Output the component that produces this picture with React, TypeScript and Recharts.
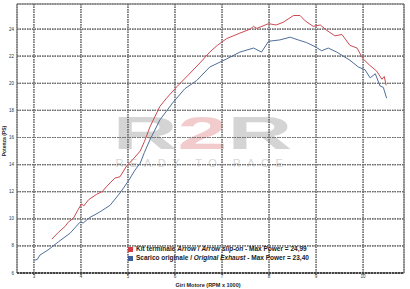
import { CartesianGrid, Line, LineChart, ReferenceArea, XAxis, YAxis } from "recharts";

// Arrow slip-on run (RPM x 1000 / PS)
const rpmArrow = [3.38, 3.52, 3.66, 3.73, 3.84, 3.94, 4.01, 4.06, 4.16, 4.33, 4.45, 4.55, 4.72, 4.83, 4.97, 5.11, 5.26, 5.35, 5.47, 5.68, 5.82, 6.04, 6.28, 6.53, 6.74, 6.9, 7.1, 7.38, 7.6, 7.67, 7.74, 7.99, 8.15, 8.3, 8.52, 8.66, 8.77, 8.94, 9.09, 9.23, 9.4, 9.55, 9.72, 9.87, 10.0, 10.15, 10.29, 10.4, 10.45, 10.49];
const powerArrow = [8.5, 9.0, 9.43, 9.75, 10.05, 10.67, 11.1, 10.95, 11.4, 11.8, 12.0, 12.4, 13.0, 13.1, 13.9, 14.4, 15.0, 15.7, 16.8, 18.3, 18.9, 19.75, 20.6, 21.5, 22.3, 22.8, 23.3, 23.7, 24.0, 24.2, 24.05, 24.4, 24.3, 24.5, 25.0, 25.0, 24.6, 24.2, 24.3, 23.9, 23.5, 23.6, 22.8, 22.6, 21.8, 21.3, 20.9, 20.3, 20.5, 19.85];

// original exhaust run
const rpmStock = [3.01, 3.07, 3.13, 3.3, 3.52, 3.77, 3.98, 4.05, 4.19, 4.4, 4.62, 4.83, 5.01, 5.15, 5.26, 5.35, 5.47, 5.68, 5.96, 6.21, 6.46, 6.74, 7.1, 7.38, 7.67, 7.84, 7.99, 8.23, 8.45, 8.62, 8.8, 8.98, 9.12, 9.26, 9.44, 9.58, 9.72, 9.9, 10.04, 10.15, 10.26, 10.36, 10.43, 10.5];
const powerStock = [6.94, 7.0, 7.33, 7.7, 8.3, 8.94, 9.75, 9.7, 10.1, 10.5, 11.0, 11.9, 12.8, 13.6, 14.1, 14.9, 15.85, 17.3, 18.6, 19.6, 20.2, 21.2, 21.8, 22.3, 22.6, 22.3, 23.1, 23.2, 23.4, 23.2, 23.0, 22.7, 22.4, 22.6, 22.3, 22.0, 21.7, 21.2, 21.0, 20.4, 20.7, 19.8, 19.7, 18.9];

const xTicks = [3, 4, 5, 6, 7, 8, 9, 10];
const yTicks = [6, 8, 10, 12, 14, 16, 18, 20, 22, 24];

const X_MIN = 2.64;
const X_MAX = 10.87;
const Y_MIN = 6;
const Y_MAX = 25.85;

const arrowData = rpmArrow.map((rpm, i) => ({ rpm, power: powerArrow[i] }));
const stockData = rpmStock.map((rpm, i) => ({ rpm, power: powerStock[i] }));

// grid segments built from the tick lists (fallback if the grid layer is not drawn)
const vGrid = xTicks.map((t) => [{ rpm: t, power: Y_MIN }, { rpm: t, power: Y_MAX }]);
const hGrid = yTicks.slice(1).map((t) => [{ rpm: X_MIN, power: t }, { rpm: X_MAX, power: t }]);

const font = "Arial, 'Liberation Sans', sans-serif";
const GRID = "#6e6e6e";

export default function App() {
  return (
    <div style={{ position: "absolute", left: 0, top: 0, width: 410, height: 289, background: "#fff", fontFamily: font }}>
      {/* watermark behind the chart */}
      <div style={{ position: "absolute", left: 105, top: 110, width: 195, height: 44, textAlign: "center", fontSize: 46, fontWeight: 900, lineHeight: "46px", transform: "scaleX(1.95)", transformOrigin: "center" }}>
        <span style={{ color: "#d4d4d4" }}>R</span>
        <span style={{ color: "#f2cccc" }}>2</span>
        <span style={{ color: "#d4d4d4" }}>R</span>
      </div>
      <div style={{ position: "absolute", left: 100, top: 157, width: 205, textAlign: "center", fontSize: 11, color: "#d6d6d6", letterSpacing: 6.5 }}>
        READY TO RACE
      </div>

      <div style={{ position: "absolute", left: 0, top: 0 }}>
        <LineChart width={410} height={289} margin={{ top: 4, right: 6, left: 5, bottom: 0 }}>
          <CartesianGrid stroke={GRID} strokeWidth={1.2} strokeDasharray="1.5 1" />
          <XAxis
            type="number"
            dataKey="rpm"
            domain={[X_MIN, X_MAX]}
            ticks={xTicks}
            allowDataOverflow
            height={16}
            tick={{ fontSize: 4.5, fill: "#333" }}
            tickSize={2}
            tickMargin={0}
            stroke="#444"
            axisLine={{ stroke: "#444", strokeWidth: 2, strokeDasharray: "2 1" }}
          />
          <YAxis
            type="number"
            domain={[Y_MIN, Y_MAX]}
            ticks={yTicks}
            allowDataOverflow
            width={12}
            tick={{ fontSize: 4.5, fill: "#333" }}
            tickSize={1}
            axisLine={false}
            tickLine={false}
          />
          {vGrid.map((d, i) => (
            <Line key={`v${i}`} data={d} dataKey="power" type="linear" stroke={GRID} strokeWidth={1.2} strokeDasharray="1.5 1" dot={false} activeDot={false} isAnimationActive={false} />
          ))}
          {hGrid.map((d, i) => (
            <Line key={`h${i}`} data={d} dataKey="power" type="linear" stroke={GRID} strokeWidth={1.2} strokeDasharray="1.5 1" dot={false} activeDot={false} isAnimationActive={false} />
          ))}
          <ReferenceArea x1={X_MIN} x2={X_MAX} y1={Y_MIN} y2={Y_MAX} fill="none" stroke="#666" strokeWidth={1} ifOverflow="visible" />
          <Line data={stockData} dataKey="power" type="linear" stroke="#4f6f9a" strokeWidth={1} dot={false} isAnimationActive={false} />
          <Line data={arrowData} dataKey="power" type="linear" stroke="#cc4a52" strokeWidth={1} dot={false} isAnimationActive={false} />
        </LineChart>
      </div>

      {/* y axis title */}
      <div style={{ position: "absolute", left: -16, top: 138, width: 40, textAlign: "center", fontSize: 5, fontWeight: 700, color: "#222", transform: "rotate(-90deg)" }}>
        Potenza (PS)
      </div>

      {/* legend */}
      <div style={{ position: "absolute", left: 128, top: 244, fontSize: 6.5, fontWeight: 700, color: "#222", lineHeight: "9px", whiteSpace: "nowrap" }}>
        <div>
          <span style={{ display: "inline-block", width: 5, height: 5, background: "#d23c44", marginRight: 3, verticalAlign: "middle" }} />
          Kit terminale <i>Arrow</i> / <i>Arrow slip-on</i> - Max Power = 24,99
        </div>
        <div>
          <span style={{ display: "inline-block", width: 5, height: 5, background: "#3c5e9a", marginRight: 3, verticalAlign: "middle" }} />
          Scarico originale / <i>Original Exhaust</i> - Max Power = 23,40
        </div>
      </div>

      {/* x axis title */}
      <div style={{ position: "absolute", left: 150, top: 282, width: 116, textAlign: "center", fontSize: 5.5, fontWeight: 700, color: "#222", lineHeight: "6px" }}>
        Giri Motore (RPM x 1000)
      </div>
    </div>
  );
}
